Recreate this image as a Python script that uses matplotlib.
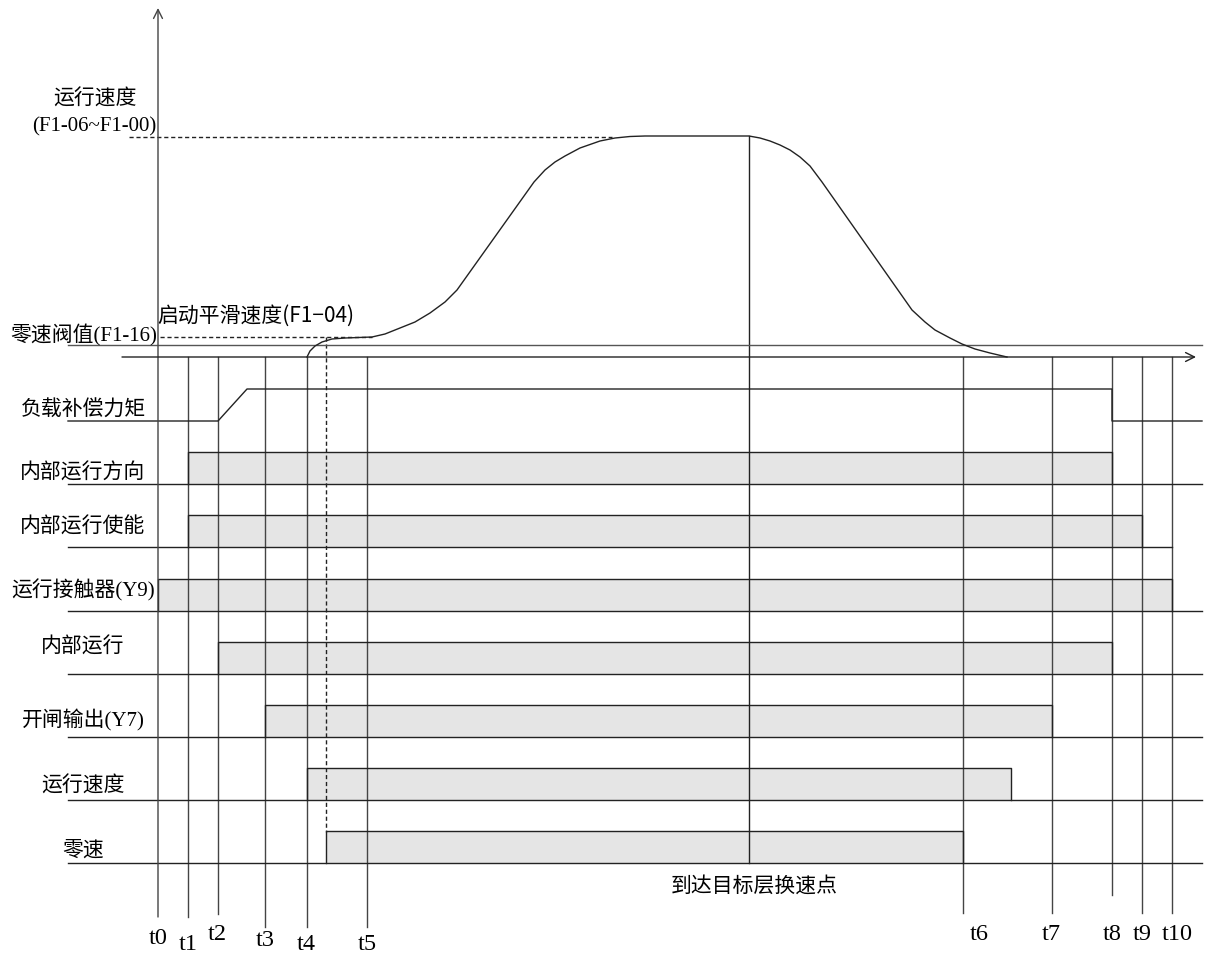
import matplotlib.pyplot as plt

plt.rcParams['font.family'] = ['Liberation Serif', 'Noto Sans CJK SC', 'DejaVu Sans']

# time marks (x positions on the drawing, pixels)
t_names = ['t0', 't1', 't2', 't3', 't4', 't5', 't6', 't7', 't8', 't9', 't10']
t_pos = [158, 188, 218, 265, 307, 367, 963, 1052, 1112, 1142, 1172]
t_end = [917, 917, 914, 927, 927, 927, 913, 913, 895, 913, 913]
t_lab_x = [158, 188, 217, 265, 306, 367, 979, 1051, 1112, 1142, 1177]
t_lab_y = [939, 945, 935, 941, 945, 945, 935, 935, 935, 935, 935]
x_change = 749          # 到达目标层换速点
x_zero = 326            # zero speed reached (dashed)

# speed curve
speed_x = [307, 310, 315, 322, 332, 345, 372, 385, 400, 415, 430, 445, 457, 534,
           545, 555, 565, 580, 600, 615, 630, 645, 749, 760, 770, 780, 790, 800,
           810, 822, 912, 925, 935, 950, 962, 975, 990, 1007]
speed_y = [357, 351, 346, 342, 339, 338, 337, 334, 328, 322, 313, 302, 290, 182,
           170, 162, 156, 148, 141, 138, 136.5, 136, 136, 138, 141, 145, 150, 157,
           166, 182, 310, 322, 330, 338, 344, 349, 353, 357]
y_top_speed = 137
y_smooth = 337
y_thresh = 345
y_axis = 357

# load compensation torque signal
load_x = [68, 218, 247, 1112, 1112, 1202]
load_y = [421, 421, 389, 389, 421, 421]

# block signals
row_labels = ['内部运行方向', '内部运行使能', '运行接触器(Y9)', '内部运行',
              '开闸输出(Y7)', '运行速度', '零速']
row_base = [484, 547, 611, 674, 737, 800, 863]
row_on = [188, 188, 158, 218, 265, 307, 326]
row_off = [1112, 1142, 1172, 1112, 1052, 1011, 963]
row_base_end = [1202, 1172, 1202, 1202, 1202, 1202, 1202]
row_lab_y = [474, 528, 590, 648, 720, 787, 851]
row_h = 32

fig = plt.figure(figsize=(12.05, 9.58), dpi=100)
ax = fig.add_axes([0, 0, 1, 1])
ax.set_xlim(0, 1205)
ax.set_ylim(958, 0)
ax.axis('off')

lc = '#222222'
lw = 1.0

# blocks
for base, on, off, bend in zip(row_base, row_on, row_off, row_base_end):
    ax.fill_between([on, off], base - row_h, base, color='#e5e5e5', lw=0, zorder=1)
    ax.plot([on, on, off, off], [base, base - row_h, base - row_h, base],
            color=lc, lw=lw, zorder=3)
    ax.plot([68, bend], [base, base], color=lc, lw=lw, zorder=3)
for lab, ly in zip(row_labels, row_lab_y):
    ax.text(83, ly, lab, fontsize=15, ha='center', va='center')

# load torque
ax.plot(load_x, load_y, color=lc, lw=lw, zorder=3)
ax.text(83, 411, '负载补偿力矩', fontsize=15, ha='center', va='center')

# vertical time lines
for x, ye in zip(t_pos[1:], t_end[1:]):
    ax.plot([x, x], [y_axis, ye], color='#444444', lw=lw, zorder=2)
ax.plot([x_change, x_change], [136, 863], color=lc, lw=lw, zorder=2)
ax.plot([x_zero, x_zero], [y_smooth, 832], color=lc, lw=lw, ls=(0, (3, 2)), zorder=2)
for name, lx, ly in zip(t_names, t_lab_x, t_lab_y):
    ax.text(lx, ly, name, fontsize=17.5, ha='center', va='center')

# axes with arrows
ax.annotate('', xy=(158, 8), xytext=(158, t_end[0]),
            arrowprops=dict(arrowstyle='->', color='#444444', lw=lw,
                            shrinkA=0, shrinkB=0, mutation_scale=16))
ax.annotate('', xy=(1196, y_axis), xytext=(122, y_axis),
            arrowprops=dict(arrowstyle='->', color=lc, lw=lw,
                            shrinkA=0, shrinkB=0, mutation_scale=16))
ax.plot([68, 1202], [y_thresh, y_thresh], color='#555555', lw=lw)

# speed curve and reference levels
ax.plot(speed_x, speed_y, color=lc, lw=lw, zorder=4)
ax.plot([129, 612], [y_top_speed, y_top_speed], color=lc, lw=lw, ls=(0, (3, 2)))
ax.plot([160, 372], [y_smooth, y_smooth], color=lc, lw=lw, ls=(0, (3, 2)))

ax.text(95, 100, '运行速度', fontsize=15, ha='center', va='center')
ax.text(94, 127, '(F1-06~F1-00)', fontsize=15, ha='center', va='center')
ax.text(157, 335, '零速阀值(F1-16)', fontsize=15, ha='right', va='center')
ax.text(157, 316, '启动平滑速度(F1−04)', fontsize=15, ha='left', va='center',
        family=['Noto Sans CJK SC', 'DejaVu Sans'])
ax.text(754, 886, '到达目标层换速点', fontsize=15, ha='center', va='center',
        family=['Noto Sans CJK SC', 'DejaVu Sans'])

fig.savefig('out.png', dpi=100)
